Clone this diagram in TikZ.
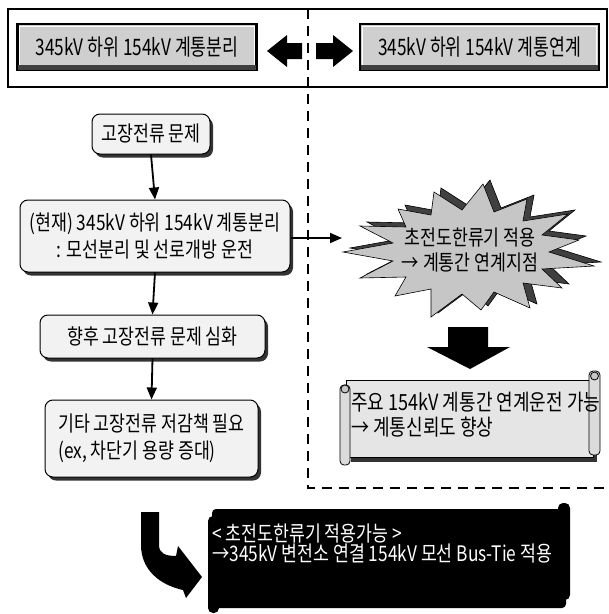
\documentclass[tikz,border=0pt]{standalone}
\usepackage{fontspec}
\setmainfont{Noto Sans CJK KR}[FakeStretch=0.81]
\newfontfamily\condfont{Noto Sans CJK KR}[FakeStretch=0.76]
\usetikzlibrary{shadows,arrows.meta}
\def\px{0.75pt}
\def\burstpts{(343,252) -- (393,243) -- (360,226) -- (406,227) -- (398,209) -- (431,215) -- (434,192) -- (462,210) -- (483,184) -- (494,212) -- (527,199) -- (523,221) -- (568,214) -- (542,235) -- (579,240) -- (549,252) -- (594,266) -- (542,269) -- (562,288) -- (523,283) -- (530,308) -- (494,292) -- (481,310) -- (462,294) -- (431,317) -- (431,289) -- (395,296) -- (406,277) -- (360,278) -- (393,261) -- cycle}
\begin{document}
\begin{tikzpicture}[x=0.75pt,y=-0.75pt,
  tbox/.style={draw=black, line width=2.8*\px, fill=gray!38, minimum width=239*\px, minimum height=46*\px, inner sep=0pt, font=\condfont\fontsize{17}{20}\selectfont},
  fbox/.style={draw=black, line width=1*\px, rounded corners=8*\px, fill=gray!10,
     drop shadow={shadow xshift=3*\px, shadow yshift=-3.5*\px, fill=black!80, opacity=1},
     inner sep=0pt, align=center, font=\fontsize{16}{20}\selectfont},
  farrow/.style={line width=1.8*\px, -{Triangle[length=12*\px, width=10*\px]}},
  dline/.style={line width=2*\px, dash pattern=on 10*\px off 7*\px},
  btxt/.style={align=center, inner sep=0pt, font=\fontsize{16}{19}\selectfont},
  stext/.style={align=left, inner sep=0pt, font=\fontsize{16.7}{19}\selectfont},
  btext/.style={align=left, inner sep=0pt, text=white, font=\fontsize{16}{15}\selectfont}
]
\useasboundingbox (0,0) rectangle (608,614);
\fill[white] (0,0) rectangle (608,614);

% top frame
\draw[line width=1.5*\px] (8,9) rectangle (607,87);

% top boxes
\node[tbox] (t1) at (137,47) {345kV 하위 154kV 계통분리};
\node[tbox] (t2) at (479.5,47) {345kV 하위 154kV 계통연계};
\foreach \b in {t1,t2}{
  \draw[white, line width=1*\px] ([shift={(3.5,3.5)}]\b.north west) rectangle ([shift={(-3.5,-3.5)}]\b.south east);
  \fill[black!75] ([shift={(2,-6)}]\b.south west) rectangle ([shift={(-2,-1.5)}]\b.south east);
}

% block arrows between the top boxes
\fill (267,51) -- (287,35) -- (287,43) -- (302,43) -- (302,59) -- (287,59) -- (287,67) -- cycle;
\fill (353,51) -- (333,35) -- (333,43) -- (316,43) -- (316,59) -- (333,59) -- (333,67) -- cycle;

% dashed region
\draw[dline] (308,9) -- (308,488) -- (608,488);

% flow boxes
\node[fbox, minimum width=118*\px, minimum height=40*\px] (f1) at (151,134) {고장전류 문제};
\node[fbox, minimum width=270*\px, minimum height=72*\px] (f2) at (155,236) {(현재) 345kV 하위 154kV 계통분리\\: 모선분리 및 선로개방 운전};
\node[fbox, minimum width=225*\px, minimum height=43*\px] (f3) at (152.5,336.5) {향후 고장전류 문제 심화};
\node[fbox, minimum width=213*\px, minimum height=77*\px, align=left] (f4) at (151.5,438.5) {기타 고장전류 저감책 필요\\(ex, 차단기 용량 증대)};

\draw[farrow] (f1.south) -- (f2.north);
\draw[farrow] (f2.south) -- (f3.north);
\draw[farrow] (f3.south) -- (f4.north);

% starburst: shadow copy, then the burst itself
\begin{scope}[shift={(7,-4)}]
  \filldraw[fill=black!75, draw=black, line width=0.6*\px] \burstpts;
\end{scope}
\filldraw[fill=gray!45, draw=black, line width=0.6*\px] \burstpts;
\node[btxt] (b) at (470,250) {초전도한류기 적용\\→ 계통간 연계지점};
\coordinate (bin) at (342,238);
\draw[farrow] (f2.east |- bin) -- (bin);

% down block arrow
\fill (448,327) -- (488,327) -- (488,347) -- (510,347) -- (470,369) -- (427,347) -- (448,347) -- cycle;

% light scroll
\fill[black!80] (351,384) rectangle (597,462);
\filldraw[fill=gray!20, line width=0.8*\px] (346,380) rectangle (593,457);
\filldraw[fill=gray!28, line width=0.8*\px, rounded corners=4*\px] (589,371) rectangle (600,455);
\filldraw[fill=gray!45, line width=0.8*\px] (594.5,376) circle (4);
\filldraw[fill=gray!28, line width=0.8*\px, rounded corners=4*\px] (340,385) rectangle (350,465);
\filldraw[fill=gray!45, line width=0.8*\px] (345,389) circle (4);
\node[stext, anchor=west] (s1) at (351,415) {주요 154kV 계통간 연계운전 가능\\→ 계통신뢰도 향상};

% black scroll
\fill[black, rounded corners=4*\px] (212,509) rectangle (566,608);
\fill[black, rounded corners=5*\px] (558,503) rectangle (570,600);
\fill[black, rounded corners=5*\px] (208,516) rectangle (219,613);
\node[btext, anchor=west] (bs) at (212,544) {< 초전도한류기 적용가능 >\\→345kV 변전소 연결 154kV 모선 Bus-Tie 적용};

% curved block arrow
\fill (141,512) -- (159,512) -- (159,545) .. controls (159,553) and (165,556) .. (176,556)
  -- (178,546) -- (202,577) -- (186,598) -- (183,590)
  .. controls (160,585) and (141,570) .. (141,545) -- cycle;
\end{tikzpicture}
\end{document}
